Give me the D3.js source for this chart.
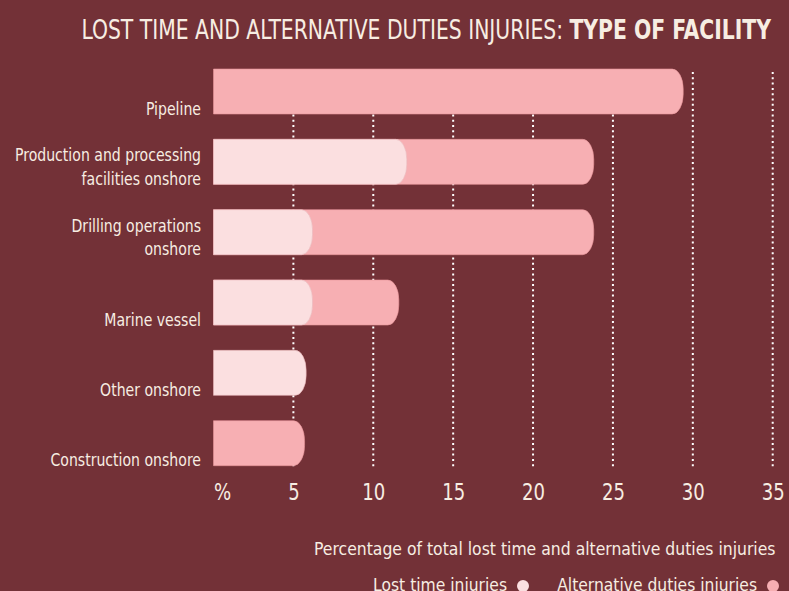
<!DOCTYPE html>
<html>
<script src='https://d3js.org/d3.v7.min.js'></script>
<style>
  html, body {
    margin: 0;
    padding: 0;
    background-color: #733137;
  }
  svg text {
    font-family: "Liberation Sans Narrow", "Arial Narrow", "DejaVu Sans Condensed", sans-serif;
    fill: #f7ede2;
  }
</style>
<body>
<div id="vis"></div>
</body>
<script>
// chart data (percent of total injuries)
var categories = [
  "Pipeline",
  "Production and processing\nfacilities onshore",
  "Drilling operations\nonshore",
  "Marine vessel",
  "Other onshore",
  "Construction onshore"
];
var lostTime = [0, 12.1, 6.2, 6.2, 5.8, 0];
var altDuties = [29.4, 11.7, 17.6, 5.4, 0, 5.7];
var tickValues = [0, 5, 10, 15, 20, 25, 30, 35];
var tickLabels = ["%", "5", "10", "15", "20", "25", "30", "35"];

var width = 789, height = 591;
var lightPink = '#fbdfe0', darkPink = '#f7afb3';

var svg = d3.select('#vis')
    .append('svg')
    .attr('width', width)
    .attr('height', height);

var x_scale = d3.scaleLinear()
    .domain([0, 35])
    .range([213.5, 772.7]);

var y_scale = d3.scaleBand()
    .domain(categories)
    .range([69, 465.7])
    .paddingInner(0.36)
    .paddingOuter(0);

// squeeze a text horizontally around its anchor x
function squeeze(sel, s, ax) {
    sel.attr('transform', 'translate(' + ax + ',0) scale(' + s + ',1) translate(' + (-ax) + ',0)');
}

// bar with a rounded right end
function barPath(x0, x1, y, h) {
    var rx = Math.min(11, x1 - x0), ry = 20;
    return 'M' + x0 + ',' + y +
        'H' + (x1 - rx) +
        'A' + rx + ',' + ry + ' 0 0 1 ' + x1 + ',' + (y + ry) +
        'V' + (y + h - ry) +
        'A' + rx + ',' + ry + ' 0 0 1 ' + (x1 - rx) + ',' + (y + h) +
        'H' + x0 + 'Z';
}

// dotted gridlines
svg.append('g')
    .selectAll('line')
    .data(tickValues.slice(1))
    .enter()
    .append('line')
    .attr('x1', function(d) { return x_scale(d); })
    .attr('x2', function(d) { return x_scale(d); })
    .attr('y1', 72)
    .attr('y2', 467)
    .attr('stroke', '#ffffff')
    .attr('stroke-width', 2)
    .attr('stroke-dasharray', '2,3.3');

var rows = categories.map(function(c, i) {
    return { name: c, lost: lostTime[i], alt: altDuties[i] };
});

// total bars (alternative duties colour) behind
svg.append('g')
    .selectAll('path')
    .data(rows.filter(function(d) { return d.alt > 0; }))
    .enter()
    .append('path')
    .attr('d', function(d) {
        return barPath(x_scale(0), x_scale(d.lost + d.alt), y_scale(d.name), y_scale.bandwidth());
    })
    .attr('fill', darkPink)
    .attr('stroke', '#e8959b')
    .attr('stroke-width', 0.6);

// lost time bars on top
svg.append('g')
    .selectAll('path')
    .data(rows.filter(function(d) { return d.lost > 0; }))
    .enter()
    .append('path')
    .attr('d', function(d) {
        return barPath(x_scale(0), x_scale(d.lost), y_scale(d.name), y_scale.bandwidth());
    })
    .attr('fill', lightPink)
    .attr('stroke', '#eab9bc')
    .attr('stroke-width', 0.6);

// category labels
var labelGroup = svg.append('g');
var labels = labelGroup
    .selectAll('text')
    .data(categories)
    .enter()
    .append('text')
    .attr('text-anchor', 'end')
    .attr('font-size', '18px');

labels.each(function(d) {
    var lines = d.split('\n');
    var bottom = y_scale(d) + y_scale.bandwidth() + 0.5;
    var t = d3.select(this);
    lines.forEach(function(line, j) {
        t.append('tspan')
            .attr('x', 201)
            .attr('y', bottom - (lines.length - 1 - j) * 23.5)
            .text(line);
    });
});
// widest line "Production and processing" is about 186px in the original
var widest = 0;
labelGroup.selectAll('tspan').each(function() {
    widest = Math.max(widest, this.getComputedTextLength());
});
squeeze(labelGroup, 186 / widest, 201);

// x axis
var x_axis = d3.axisBottom(x_scale)
    .tickValues(tickValues)
    .tickSize(0)
    .tickFormat(function(d, i) { return tickLabels[i]; });

var gx = svg.append('g')
    .attr('transform', 'translate(0,483)')
    .call(x_axis);
gx.select('.domain').remove();
gx.selectAll('text')
    .attr('fill', '#f7ede2')
    .attr('font-size', '23px')
    .attr('font-family', null)
    .attr('dy', '0.75em')
    .attr('y', 0);
gx.selectAll('.tick')
    .filter(function(d) { return d === 0; })
    .select('text')
    .attr('text-anchor', 'start');
var tenWidth = gx.selectAll('.tick').filter(function(d) { return d === 10; })
    .select('text').node().getComputedTextLength();
gx.selectAll('.tick text').each(function() {
    squeeze(d3.select(this), 23 / tenWidth, 0);
});

// axis title and legend
function fitText(x, y, str, target) {
    var t = svg.append('text')
        .attr('x', x)
        .attr('y', y)
        .attr('text-anchor', 'end')
        .attr('font-size', '18px')
        .text(str);
    squeeze(t, target / t.node().getComputedTextLength(), x);
    return t;
}

fitText(775.5, 555, 'Percentage of total lost time and alternative duties injuries', 462);

fitText(507, 591.5, 'Lost time injuries', 134);
svg.append('circle')
    .attr('cx', 523).attr('cy', 586).attr('r', 6)
    .attr('fill', lightPink);

fitText(757, 591.5, 'Alternative duties injuries', 200);
svg.append('circle')
    .attr('cx', 773).attr('cy', 586).attr('r', 6)
    .attr('fill', darkPink);

// title, squeezed to the width of the original
var title = svg.append('text')
    .attr('x', 771)
    .attr('y', 39)
    .attr('text-anchor', 'end')
    .attr('font-size', '26px');
title.append('tspan')
    .attr('font-weight', 'normal')
    .text('LOST TIME AND ALTERNATIVE DUTIES INJURIES: ');
title.append('tspan')
    .attr('font-weight', 'bold')
    .text('TYPE OF FACILITY');
var tw = title.node().getBBox().width;
squeeze(title, 691 / tw, 771);
</script>
</html>
